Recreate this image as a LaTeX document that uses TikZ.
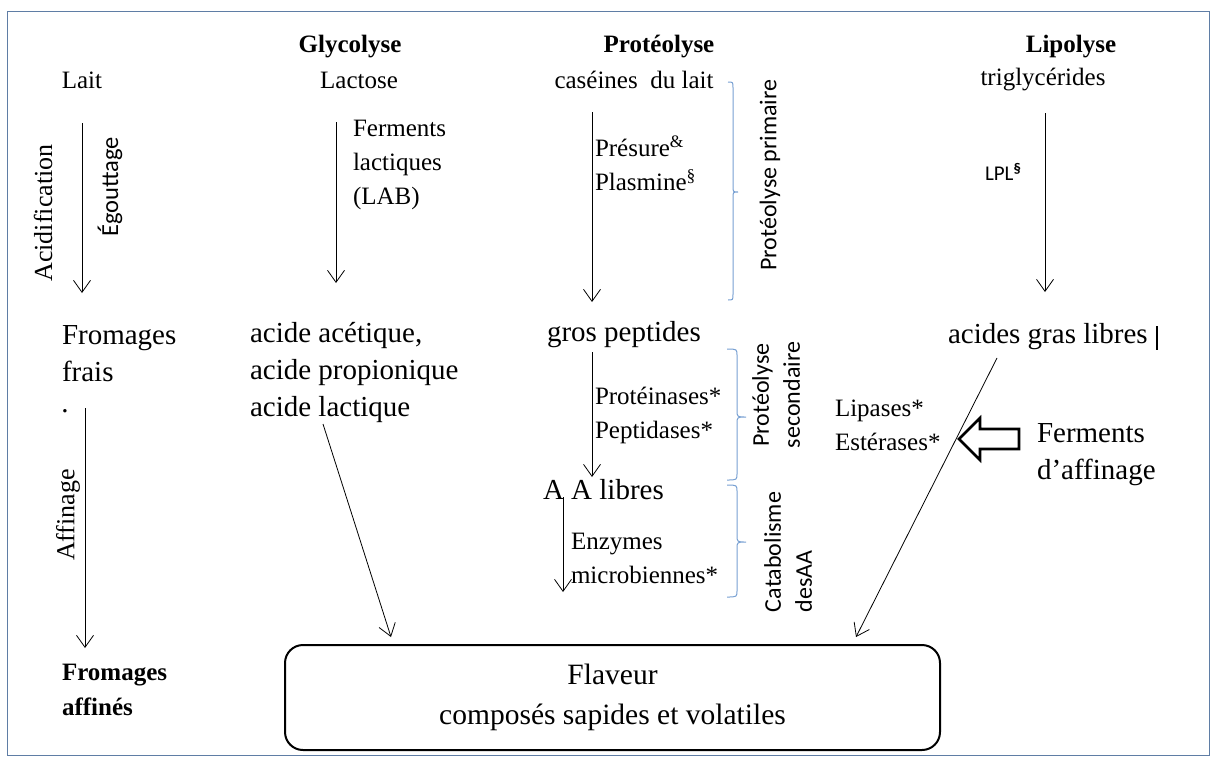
\documentclass[tikz,border=0pt]{standalone}
\usepackage{fontspec}
\setmainfont{Liberation Serif}
\newfontfamily\sffam{Carlito}
\usetikzlibrary{arrows.meta}
\definecolor{framecol}{RGB}{95,125,165}
\definecolor{brkcol}{RGB}{120,160,210}
\begin{document}
\begin{tikzpicture}[x=1pt,y=-1pt,
  every node/.style={inner sep=0pt, outer sep=0pt},
  nt/.style={font=\fontsize{25}{34}\selectfont},
  lg/.style={font=\fontsize{29}{37}\selectfont},
  bd/.style={font=\fontsize{25}{35}\selectfont\bfseries},
  sfl/.style={font=\sffam\fontsize{24}{31}\selectfont},
  arr/.style={line width=0.8pt, -{Straight Barb[length=12pt,width=17pt,line width=0.8pt]}},
  brk/.style={draw=brkcol, line width=1pt},
  flavbox/.style={draw, line width=2pt, rounded corners=18pt, minimum width=655pt, minimum height=105pt, align=center}
]
\useasboundingbox (0,0) rectangle (1214,758);
\draw[framecol, line width=1pt] (7,11) rectangle (1209,755);

% headings
\node[nt] (lait) at (82,80) {Lait};
\node[bd] (glyco) at (350,47) {Glycolyse};
\node[nt] (lactose) at (359,80) {Lactose};
\node[bd] (proteo) at (659,47) {Protéolyse};
\node[nt] (caseine) at (634,80) {caséines\ \ du lait};
\node[bd] (lipo) at (1071,47) {Lipolyse};
\node[nt] (trigly) at (1043,80) {triglycérides};

% left column
\node[nt, font=\fontsize{26}{34}\selectfont, rotate=90] (acidif) at (43,213) {Acidification};
\node[sfl, font=\sffam\fontsize{24.5}{31}\selectfont, rotate=90] (egout) at (110,187) {Égouttage};
\coordinate (a1s) at (82,123); \coordinate (a1e) at (82,293);
\draw[arr] (a1s) -- (a1e);
\node[lg, align=left, anchor=west] (fromfrais) at (62,354) {Fromages\\frais};
\node[lg, anchor=base] (dot) at (65,412) {.};
\node[nt, font=\fontsize{26}{34}\selectfont, rotate=90] (affinage) at (68,515) {Affinage};
\coordinate (a2s) at (85,408); \coordinate (a2e) at (85,648);
\draw[arr] (a2s) -- (a2e);
\node[bd, align=left, anchor=west] (fromaff) at (62,690) {Fromages\\affinés};

% glycolyse column
\node[nt, align=left, anchor=west] (ferm) at (353,165) {Ferments\\lactiques\\(LAB)};
\coordinate (g1s) at (336,122); \coordinate (g1e) at (336,283);
\draw[arr] (g1s) -- (g1e);
\node[lg, align=left, anchor=west] (acides) at (250,372) {acide acétique,\\acide propionique\\acide lactique};
\coordinate (g2s) at (323,424); \coordinate (g2e) at (391,637);
\draw[arr] (g2s) -- (g2e);

% proteolyse column
\coordinate (p1s) at (592,112); \coordinate (p1e) at (592,302);
\draw[arr] (p1s) -- (p1e);
\node[nt, align=left, anchor=west] (presure) at (595,163) {Présure\textsuperscript{\&}\\Plasmine\textsuperscript{§}};
\node[lg, anchor=west] (gros) at (547,335) {gros peptides};
\coordinate (p2s) at (592,352); \coordinate (p2e) at (592,477);
\draw[arr] (p2s) -- (p2e);
\node[nt, align=left, anchor=west] (protein) at (595,415) {Protéinases*\\Peptidases*};
\node[lg, anchor=west] (aalib) at (543,490) {A A libres};
\coordinate (p3s) at (563,497); \coordinate (p3e) at (563,592);
\draw[arr] (p3s) -- (p3e);
\node[nt, align=left, anchor=west] (enzym) at (571,558) {Enzymes\\microbiennes*};

% brackets
\draw[brk] (728,82) .. controls (733,82) .. (733,88) -- (733,186) .. controls (733,192) .. (738,192)
           .. controls (733,192) .. (733,198) -- (733,294) .. controls (733,300) .. (728,300);
\draw[brk] (727,349) .. controls (737,349) .. (737,356) -- (737,410) .. controls (737,417) .. (746,417)
           .. controls (737,417) .. (737,424) -- (737,473) .. controls (737,480) .. (727,480);
\draw[brk] (727,485) .. controls (737,485) .. (737,492) -- (737,535) .. controls (737,542) .. (746,542)
           .. controls (737,542) .. (737,549) -- (737,590) .. controls (737,597) .. (727,597);
\node[sfl, rotate=90] (protprim) at (770,175) {Protéolyse primaire};
\node[sfl, rotate=90, align=center] (protsec) at (776,395) {Protéolyse\\secondaire};
\node[sfl, rotate=90, align=left] (catab) at (788,552) {Catabolisme\\desAA};

% lipolyse column
\node[sfl, font=\sffam\fontsize{21}{31}\selectfont, anchor=west] (lpl) at (985,172) {LPL\textsuperscript{\textbf{§}}};
\coordinate (l1s) at (1045,113); \coordinate (l1e) at (1045,292);
\draw[arr] (l1s) -- (l1e);
\node[lg, anchor=west] (agl) at (948,337) {acides gras libres};
\draw[line width=1.6pt] (1157,326) -- (1157,350);
\coordinate (l2s) at (997,358); \coordinate (l2e) at (856,637);
\draw[arr] (l2s) -- (l2e);
\node[nt, align=left, anchor=west] (lipases) at (835,425) {Lipases*\\Estérases*};
\draw[line width=2.6pt, line join=miter] (1019,429) -- (980,429) -- (980,418) -- (959,439)
      -- (980,460) -- (980,449) -- (1019,449) -- cycle;
\node[lg, align=left, anchor=west] (fermaff) at (1037,455) {Ferments\\d’affinage};

% flaveur box
\node[flavbox, font=\fontsize{29.5}{40}\selectfont] (flav) at (612.5,697.5) {Flaveur\\composés sapides et volatiles};
\end{tikzpicture}
\end{document}
